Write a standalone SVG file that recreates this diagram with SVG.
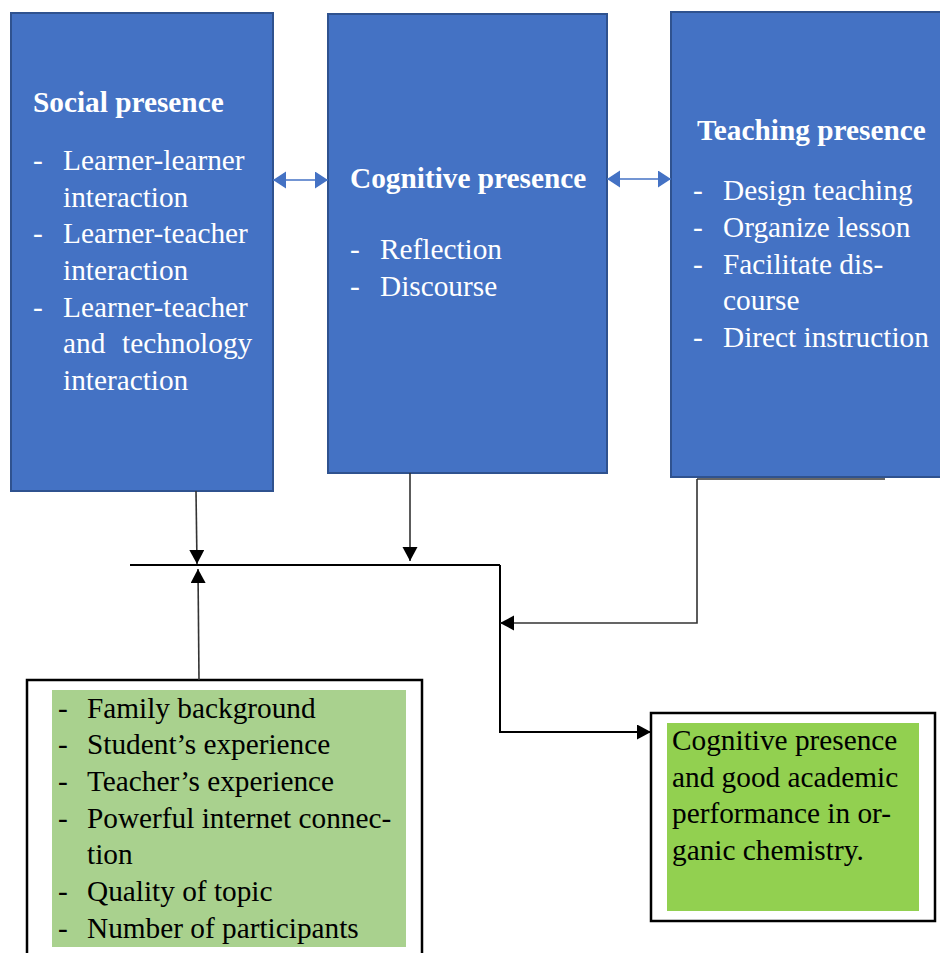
<svg xmlns="http://www.w3.org/2000/svg" width="940" height="953" viewBox="0 0 940 953">
<style>
.blue{fill:#4472C4;stroke:#2F528F;stroke-width:2}
.wt{font-family:"Liberation Serif","Times New Roman",serif;font-size:29.3px;fill:#ffffff}
.wb{font-family:"Liberation Serif","Times New Roman",serif;font-size:29.3px;font-weight:bold;fill:#ffffff}
.bt{font-family:"Liberation Serif","Times New Roman",serif;font-size:29.3px;fill:#000000}
.frame{fill:#ffffff;stroke:#000000;stroke-width:2.5}
.ln{fill:none;stroke:#000000;stroke-width:2}
.ln2{fill:none;stroke:#333333;stroke-width:1.6}
.bl{fill:none;stroke:#4472C4;stroke-width:1.6}
</style>
<defs>
<marker id="ah" markerUnits="userSpaceOnUse" markerWidth="16" markerHeight="16" refX="14" refY="7.5" orient="auto" viewBox="0 0 16 16">
<path d="M0,0 L14,7.5 L0,15 z" fill="#000000"/>
</marker>
<marker id="bh" markerUnits="userSpaceOnUse" markerWidth="14" markerHeight="18" refX="13" refY="8.5" orient="auto-start-reverse" viewBox="0 0 14 18">
<path d="M0,0 L13,8.5 L0,17 z" fill="#4472C4"/>
</marker>
</defs>

<g id="social">
<rect class="blue" x="11" y="13" width="262" height="478"/>
<text class="wb" x="33" y="112">Social presence</text>
<text class="wt" x="33" y="170">-</text><text class="wt" x="63" y="170">Learner-learner</text>
<text class="wt" x="63" y="207">interaction</text>
<text class="wt" x="33" y="243">-</text><text class="wt" x="63" y="243">Learner-teacher</text>
<text class="wt" x="63" y="280">interaction</text>
<text class="wt" x="33" y="317">-</text><text class="wt" x="63" y="317">Learner-teacher</text>
<text class="wt" x="63" y="353">and</text><text class="wt" x="122" y="353">technology</text>
<text class="wt" x="63" y="390">interaction</text>
</g>

<g id="cognitive">
<rect class="blue" x="328" y="14" width="279" height="459"/>
<text class="wb" x="350" y="188">Cognitive presence</text>
<text class="wt" x="350" y="259">-</text><text class="wt" x="380" y="259">Reflection</text>
<text class="wt" x="350" y="296">-</text><text class="wt" x="380" y="296">Discourse</text>
</g>

<g id="teaching">
<rect class="blue" x="671" y="12" width="280" height="465"/>
<text class="wb" x="697" y="140">Teaching presence</text>
<text class="wt" x="693" y="200">-</text><text class="wt" x="723" y="200">Design teaching</text>
<text class="wt" x="693" y="237">-</text><text class="wt" x="723" y="237">Organize lesson</text>
<text class="wt" x="693" y="274">-</text><text class="wt" x="723" y="274">Facilitate dis-</text>
<text class="wt" x="723" y="310">course</text>
<text class="wt" x="693" y="347">-</text><text class="wt" x="723" y="347">Direct instruction</text>
</g>

<g id="factors">
<rect class="frame" x="27" y="680" width="395" height="290"/>
<rect x="52" y="690" width="354" height="257" fill="#A9D18E"/>
<text class="bt" x="58" y="718">-</text><text class="bt" x="87" y="718">Family background</text>
<text class="bt" x="58" y="754">-</text><text class="bt" x="87" y="754">Student’s experience</text>
<text class="bt" x="58" y="791">-</text><text class="bt" x="87" y="791">Teacher’s experience</text>
<text class="bt" x="58" y="828">-</text><text class="bt" x="87" y="828">Powerful internet connec-</text>
<text class="bt" x="87" y="864">tion</text>
<text class="bt" x="58" y="901">-</text><text class="bt" x="87" y="901">Quality of topic</text>
<text class="bt" x="58" y="938">-</text><text class="bt" x="87" y="938">Number of participants</text>
</g>

<g id="outcome">
<rect class="frame" x="651" y="713" width="284" height="208"/>
<rect x="667" y="723" width="252" height="188" fill="#92D050"/>
<text class="bt" x="672" y="750">Cognitive presence</text>
<text class="bt" x="672" y="787">and good academic</text>
<text class="bt" x="672" y="823">performance in or-</text>
<text class="bt" x="672" y="860">ganic chemistry.</text>
</g>

<g id="connectors">
<line class="bl" x1="273" y1="180" x2="328" y2="180" marker-start="url(#bh)" marker-end="url(#bh)"/>
<line class="bl" x1="607" y1="179" x2="671" y2="179" marker-start="url(#bh)" marker-end="url(#bh)"/>
<line class="ln" x1="130" y1="565" x2="500" y2="565"/>
<polyline class="ln" points="500,565 500,732 651,732" marker-end="url(#ah)"/>
<line class="ln2" x1="196" y1="491" x2="197" y2="564" marker-end="url(#ah)"/>
<line class="ln2" x1="199" y1="680" x2="198" y2="569" marker-end="url(#ah)"/>
<line class="ln2" x1="410" y1="473" x2="410" y2="561" marker-end="url(#ah)"/>
<line class="ln2" x1="697" y1="479" x2="885" y2="479"/>
<polyline class="ln2" points="697,479 697,623 500,623" marker-end="url(#ah)"/>
</g>
</svg>
